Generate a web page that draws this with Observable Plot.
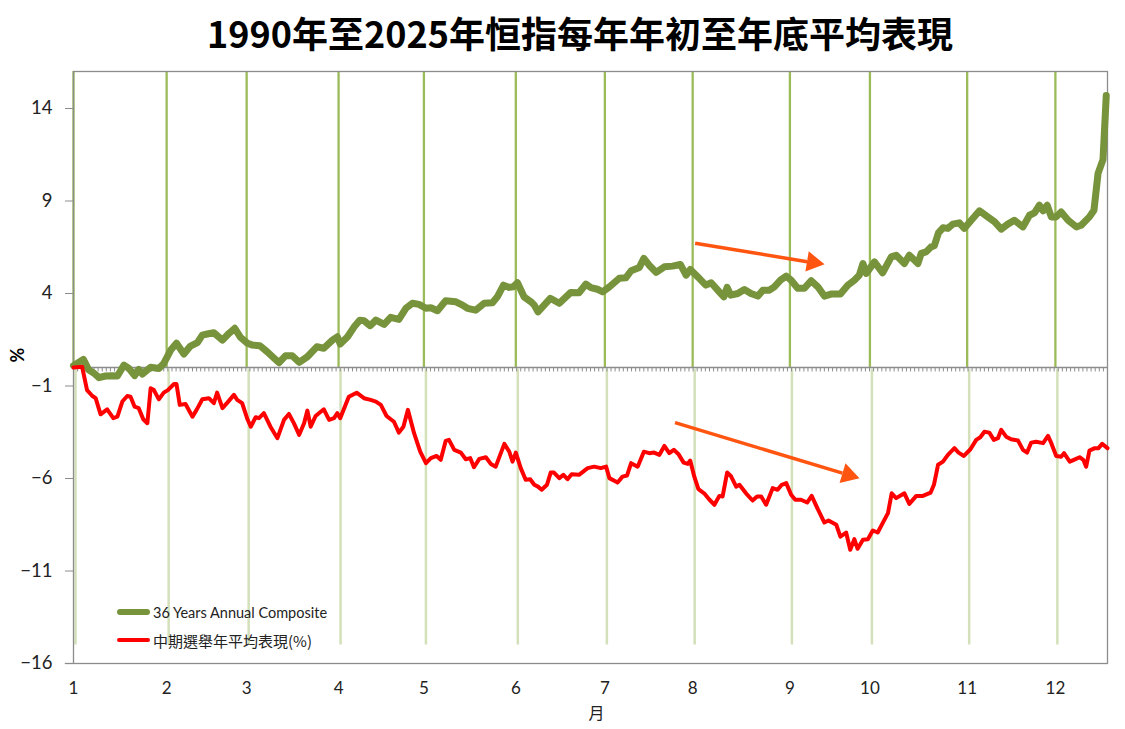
<!DOCTYPE html>
<html>
<head>
<meta charset="utf-8">
<script src="https://cdn.jsdelivr.net/npm/d3@7"></script>
<script src="https://cdn.jsdelivr.net/npm/@observablehq/plot@0.6"></script>
<style>
  html, body { margin: 0; padding: 0; background: #fff; }
  #wrap { position: relative; width: 1125px; height: 729px; overflow: hidden; }
  #title { height: 64px; line-height: 64px; text-align: center; padding-left: 35px; box-sizing: border-box;
           font-family: "Noto Sans CJK TC", "Noto Sans", sans-serif; font-weight: 700; font-size: 36px; color: #000; }
  .leg { position: absolute; left: 117px; display: flex; align-items: center; color: #222; white-space: nowrap; }
  .leg .sw { display: inline-block; width: 33px; border-radius: 3px; margin-right: 3px; }
</style>
</head>
<body>
<div id="wrap">
  <div id="title">1990年至2025年恒指每年年初至年底平均表現</div>
  <div id="chart"></div>
  <div class="leg" style="top:602px;height:20px;font-family:Lato,sans-serif;font-size:14.5px;">
    <span class="sw" style="height:6px;background:#77933C;"></span><span>36 Years Annual Composite</span>
  </div>
  <div class="leg" style="top:630px;height:20px;font-family:'Noto Sans CJK TC',sans-serif;font-size:15px;">
    <span class="sw" style="height:4px;background:#FF0000;"></span><span>中期選舉年平均表現(%)</span>
  </div>
</div>
<script>
// trading-day index (x) of each month start and its label
const monthDays = [0, 22.7, 42.2, 64.6, 85.4, 107.8, 129.5, 150.9, 174.6, 194.1, 217.8, 239.3];
const monthLabels = ["1","2","3","4","5","6","7","8","9","10","11","12"];
const yTicks = [14, 9, 4, -1, -6, -11, -16];

// 36 Years Annual Composite
const greenDay = [0,2.4,3.7,5.0,6.2,7.8,9.4,10.7,12.3,13.5,14.9,15.9,16.8,18.8,20.8,22.0,23.7,25.1,26.9,28.5,30.2,31.4,32.6,34.2,36.3,37.9,39.3,40.7,42.4,43.6,45.4,47.2,48.9,50.1,51.7,53.3,55.0,57.0,59.3,61.0,63.1,64.3,65.0,66.8,68.4,69.8,70.8,72.3,73.7,75.7,77.3,79.3,81.0,82.6,84.2,85.9,87.1,88.7,90.7,93.2,94.8,96.0,98.0,100.1,102.1,103.3,104.8,106.2,107.2,108.2,109.8,111.5,112.3,113.2,114.7,116.2,118.4,121.2,123.2,124.9,126.1,127.7,129.0,130.6,133.0,134.6,135.9,137.9,139.0,140.3,142.0,144.0,146.0,147.9,149.3,150.3,152.5,154.1,155.4,157.0,158.5,159.3,160.2,161.9,163.5,165.1,166.8,168.0,169.6,170.8,172.3,173.7,174.9,176.5,178.1,179.8,181.4,183.0,184.6,186.9,188.7,190.3,191.5,192.4,193.2,195.2,197.2,199.3,200.5,202.5,203.7,205.8,206.6,207.8,209.0,209.8,210.8,211.9,213.1,214.3,215.9,217.1,218.8,220.8,222.8,224.5,226.1,227.7,229.3,231.4,233.0,234.2,235.4,236.3,237.3,238.3,239.5,240.7,242.4,244.4,245.6,247.6,248.7,249.7,250.9,251.7];
const greenVal = [0.1,0.44,-0.13,-0.31,-0.55,-0.46,-0.44,-0.46,0.13,-0.05,-0.44,-0.1,-0.35,0.01,-0.05,0.22,0.94,1.31,0.73,1.16,1.34,1.75,1.81,1.88,1.48,1.85,2.12,1.63,1.31,1.21,1.18,0.85,0.5,0.26,0.64,0.64,0.28,0.58,1.12,1.04,1.48,1.66,1.27,1.66,2.2,2.56,2.53,2.26,2.56,2.33,2.71,2.6,3.2,3.47,3.41,3.2,3.23,3.07,3.61,3.55,3.37,3.2,3.1,3.47,3.5,3.82,4.45,4.33,4.36,4.58,3.82,3.55,3.37,3.01,3.37,3.74,3.47,4.06,4.04,4.51,4.32,4.23,4.09,4.36,4.82,4.85,5.23,5.41,5.9,5.53,5.14,5.44,5.48,5.57,4.99,5.3,4.82,4.45,4.58,4.18,3.82,4.33,3.91,4.0,4.22,4.0,3.86,4.18,4.18,4.36,4.72,4.94,4.72,4.28,4.28,4.69,4.36,3.86,3.97,3.97,4.45,4.72,4.99,5.62,5.08,5.71,5.12,5.98,6.07,5.62,6.07,5.62,6.17,6.25,6.52,6.58,7.28,7.55,7.52,7.75,7.82,7.52,7.96,8.47,8.14,7.87,7.48,7.75,7.96,7.6,8.23,8.36,8.77,8.47,8.77,8.14,8.14,8.41,7.96,7.6,7.69,8.14,8.5,10.49,11.24,14.7];

// 中期選舉年平均表現(%)
const redDay = [0,2.1,3.3,4.6,5.4,6.6,8.2,9.7,10.7,11.9,13.1,13.9,14.9,15.9,17.0,18.0,18.8,19.6,20.8,22.0,23.0,24.5,25.1,25.9,27.3,29.0,30.0,31.4,33.0,34.2,35.0,36.3,37.5,39.1,39.9,41.1,42.4,43.2,44.4,45.2,46.4,48.0,49.7,51.3,52.5,53.7,55.0,56.2,57.0,57.8,59.0,61.0,62.3,63.5,64.3,65.0,67.1,69.0,70.8,72.4,73.7,74.9,76.3,78.1,79.3,80.4,81.5,83.0,84.5,85.9,87.1,88.5,89.5,90.7,91.5,92.8,94.4,95.6,96.7,97.6,98.9,100.5,101.7,102.9,105.0,106.2,107.0,107.8,109.0,110.2,111.3,112.3,113.2,114.1,115.4,116.3,117.1,118.4,119.4,120.4,121.4,123.2,125.3,126.9,127.7,128.5,129.8,130.6,132.6,133.8,134.9,135.9,137.5,139.0,140.3,141.5,142.8,144.0,145.2,146.3,147.4,148.7,149.7,150.3,151.3,152.3,153.7,155.0,156.2,157.4,158.2,159.3,160.2,161.5,162.3,163.9,165.5,166.6,167.6,168.8,170.4,171.6,172.6,173.7,174.9,175.9,177.3,178.8,179.9,181.4,183.0,184.0,185.9,186.9,188.3,189.3,190.3,191.1,192.4,193.6,194.8,196.0,197.2,198.5,199.4,200.5,202.5,203.7,205.4,207.0,208.9,209.7,210.7,211.9,213.1,214.7,215.7,217.0,218.6,220.0,221.0,222.0,223.2,224.3,225.3,226.1,227.3,228.5,230.2,231.4,232.4,233.4,234.6,236.3,237.5,238.3,239.5,240.7,241.4,242.8,243.8,245.2,246.1,246.8,247.6,248.9,249.8,250.7,252.0];
const redVal = [0,0.04,-1.22,-1.54,-1.66,-2.53,-2.26,-2.74,-2.66,-1.84,-1.54,-1.58,-2.12,-2.2,-2.8,-3.01,-1.12,-1.22,-1.72,-1.36,-1.22,-0.89,-0.89,-2.02,-1.97,-2.66,-2.29,-1.72,-1.66,-1.93,-1.36,-2.2,-1.9,-1.48,-1.75,-1.93,-2.8,-3.2,-2.69,-2.74,-2.47,-3.2,-3.82,-2.83,-2.51,-3.01,-3.64,-3.01,-2.33,-3.2,-2.62,-2.26,-2.83,-2.74,-2.47,-2.74,-1.58,-1.36,-1.66,-1.75,-1.84,-2.02,-2.62,-2.93,-3.52,-3.2,-2.29,-3.55,-4.55,-5.17,-4.9,-4.78,-4.99,-3.97,-3.91,-4.45,-4.6,-4.96,-4.9,-5.39,-4.94,-4.85,-5.21,-5.36,-4.13,-4.55,-5.09,-4.6,-5.44,-6.07,-6.04,-6.34,-6.44,-6.61,-6.34,-5.68,-5.68,-5.98,-5.8,-6.04,-5.77,-5.8,-5.44,-5.36,-5.4,-5.44,-5.36,-5.98,-6.22,-5.9,-5.84,-5.17,-5.36,-4.55,-4.63,-4.6,-4.72,-4.24,-4.63,-4.45,-4.67,-5.14,-5.21,-5.03,-5.9,-6.58,-6.8,-7.15,-7.42,-6.94,-6.97,-5.68,-5.86,-6.44,-6.34,-6.8,-7.19,-6.97,-6.97,-7.42,-6.52,-6.61,-6.34,-6.25,-6.88,-7.15,-7.15,-7.3,-6.94,-7.66,-8.38,-8.27,-8.5,-9.14,-8.92,-9.85,-9.28,-9.8,-9.31,-9.28,-8.81,-8.92,-8.41,-7.87,-6.8,-7.06,-6.8,-7.37,-6.94,-6.94,-6.76,-6.34,-5.26,-5.09,-4.72,-4.36,-4.6,-4.78,-4.42,-3.91,-3.77,-3.47,-3.52,-3.91,-3.82,-3.37,-3.74,-3.88,-3.95,-4.45,-4.6,-4.06,-4.01,-4.09,-3.7,-4.09,-4.78,-4.82,-4.63,-5.09,-4.99,-4.85,-4.99,-5.36,-4.49,-4.36,-4.36,-4.13,-4.36];

// annotation arrows (data coordinates): shaft start, shaft end, head centre, head angle
const arrowX1 = [151.5, 146.6];
const arrowY1 = [6.72, -2.98];
const arrowX2 = [178.8, 187.4];
const arrowY2 = [5.72, -5.71];
const headX = [180.2, 188.8];
const headY = [5.68, -5.80];
const headRot = [99.4, 106.8];

const green = greenDay.map((d, i) => ({day: d, v: greenVal[i]}));
const red = redDay.map((d, i) => ({day: d, v: redVal[i]}));
const arrows = arrowX1.map((x, i) => ({x1: x, y1: arrowY1[i], x2: arrowX2[i], y2: arrowY2[i], hx: headX[i], hy: headY[i], r: headRot[i]}));
const labelOf = new Map(monthDays.map((d, i) => [d, monthLabels[i]]));
const dayTicks = d3.range(0, 253);

const chart = Plot.plot({
  width: 1125,
  height: 665,
  marginTop: 7,
  marginLeft: 73,
  marginRight: 18,
  marginBottom: 66,
  x: {domain: [0, 252]},
  y: {domain: [-16, 16]},
  style: {background: "#fff", overflow: "visible"},
  marks: [
    Plot.ruleX(monthDays, {x: d => d, y1: -15, y2: -0.1, stroke: "#D3E0BA", strokeWidth: 2.5, dx: 2}),
    Plot.ruleX(monthDays, {x: d => d, y1: 0, y2: 16, stroke: "#9BBB59", strokeWidth: 2.3}),
    Plot.frame({stroke: "#8c8c8c", strokeWidth: 1.3}),
    Plot.ruleY([-16], {x1: -2, x2: 0, stroke: "#8c8c8c", strokeWidth: 1.3}),
    Plot.ruleX(dayTicks, {x: d => d, y1: 0, y2: -0.24, stroke: "#8c8c8c", strokeWidth: 1}),
    Plot.ruleY([0], {stroke: "#8c8c8c", strokeWidth: 1.6}),
    Plot.axisY({ticks: yTicks, tickSize: 8, tickPadding: 13, fontSize: 18.5, fontFamily: "Lato, sans-serif", stroke: "#8c8c8c", fill: "#222", label: null}),
    Plot.axisX({ticks: monthDays, tickFormat: d => labelOf.get(d), tickSize: 0, tickPadding: 18, fontSize: 17, fontFamily: "Lato, sans-serif", fill: "#222", label: null}),
    Plot.text(["%"], {frameAnchor: "left", dx: -55, dy: -5, rotate: -90, fontSize: 18, fontWeight: "bold", fontFamily: "Lato, sans-serif", fill: "#000"}),
    Plot.text(["月"], {frameAnchor: "bottom", dx: 6, dy: 55, fontSize: 16, fontFamily: "Noto Sans CJK TC, sans-serif", fill: "#222"}),
    Plot.line(green, {x: "day", y: "v", stroke: "#77933C", strokeWidth: 7, strokeLinejoin: "round", strokeLinecap: "round"}),
    Plot.line(red, {x: "day", y: "v", stroke: "#FF0000", strokeWidth: 4, strokeLinejoin: "round", strokeLinecap: "round"}),
    Plot.link(arrows, {x1: "x1", y1: "y1", x2: "x2", y2: "y2", stroke: "#FF5511", strokeWidth: 3.5}),
    Plot.dot(arrows, {x: "hx", y: "hy", symbol: "triangle", r: 7.6, rotate: "r", fill: "#FF5511", stroke: "none"})
  ]
});
document.getElementById("chart").appendChild(chart);
</script>
</body>
</html>
